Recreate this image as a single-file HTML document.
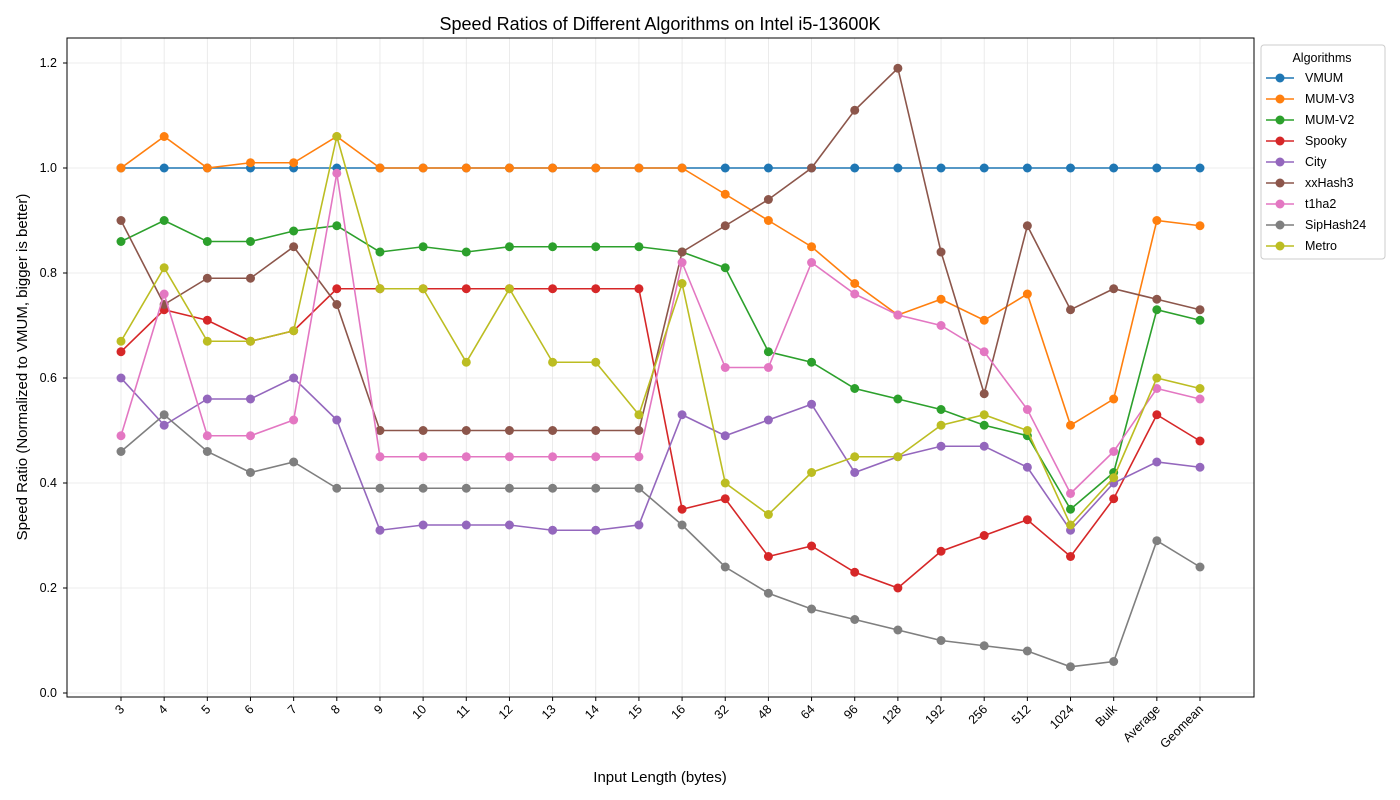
<!DOCTYPE html>
<html><head><meta charset="utf-8"><style>
body{margin:0;background:#fff}
svg{display:block;font-family:"Liberation Sans","DejaVu Sans",sans-serif}
</style></head><body>
<svg id="s" width="1400" height="800" xmlns="http://www.w3.org/2000/svg">
<rect width="1400" height="800" fill="#fff"/>
<g id="grid" stroke="#e6e6e6" stroke-width="0.8"></g>
<g id="series"></g>
<rect x="67" y="38" width="1187" height="659" fill="none" stroke="#000" stroke-width="1"/>
<text x="660" y="30" font-size="18" text-anchor="middle">Speed Ratios of Different Algorithms on Intel i5-13600K</text>
<text x="660" y="782" font-size="15" text-anchor="middle">Input Length (bytes)</text>
<text transform="translate(27,367) rotate(-90)" font-size="15" text-anchor="middle">Speed Ratio (Normalized to VMUM, bigger is better)</text>
<g font-size="12.5" text-anchor="end">
<text x="57" y="697">0.0</text><text x="57" y="592">0.2</text><text x="57" y="487">0.4</text><text x="57" y="382">0.6</text><text x="57" y="277">0.8</text><text x="57" y="172">1.0</text><text x="57" y="67">1.2</text>
</g>
<g id="xl" font-size="12.5" text-anchor="end">
<text>3</text><text>4</text><text>5</text><text>6</text><text>7</text><text>8</text><text>9</text><text>10</text><text>11</text><text>12</text><text>13</text><text>14</text><text>15</text><text>16</text><text>32</text><text>48</text><text>64</text><text>96</text><text>128</text><text>192</text><text>256</text><text>512</text><text>1024</text><text>Bulk</text><text>Average</text><text>Geomean</text>
</g>
<g id="leg">
<rect x="1261" y="45" width="124" height="214" rx="3" fill="#fff" fill-opacity="0.85" stroke="#ccc"/>
<text x="1322" y="62" font-size="12.5" text-anchor="middle">Algorithms</text>
<g font-size="12.5">
<text x="1305" y="82">VMUM</text><text x="1305" y="103">MUM-V3</text><text x="1305" y="124">MUM-V2</text><text x="1305" y="145">Spooky</text><text x="1305" y="166">City</text><text x="1305" y="187">xxHash3</text><text x="1305" y="208">t1ha2</text><text x="1305" y="229">SipHash24</text><text x="1305" y="250">Metro</text>
</g>
</g>
</svg>
<script>
const NS="http://www.w3.org/2000/svg";
const X=i=>121+i*43.16, Y=v=>693-v*525;
const data=[
["#1f77b4",Array(26).fill(1)],
["#ff7f0e",[1,1.06,1,1.01,1.01,1.06,1,1,1,1,1,1,1,1,.95,.9,.85,.78,.72,.75,.71,.76,.51,.56,.9,.89]],
["#2ca02c",[.86,.9,.86,.86,.88,.89,.84,.85,.84,.85,.85,.85,.85,.84,.81,.65,.63,.58,.56,.54,.51,.49,.35,.42,.73,.71]],
["#d62728",[.65,.73,.71,.67,.69,.77,.77,.77,.77,.77,.77,.77,.77,.35,.37,.26,.28,.23,.2,.27,.3,.33,.26,.37,.53,.48]],
["#9467bd",[.6,.51,.56,.56,.6,.52,.31,.32,.32,.32,.31,.31,.32,.53,.49,.52,.55,.42,.45,.47,.47,.43,.31,.4,.44,.43]],
["#8c564b",[.9,.74,.79,.79,.85,.74,.5,.5,.5,.5,.5,.5,.5,.84,.89,.94,1,1.11,1.19,.84,.57,.89,.73,.77,.75,.73]],
["#e377c2",[.49,.76,.49,.49,.52,.99,.45,.45,.45,.45,.45,.45,.45,.82,.62,.62,.82,.76,.72,.7,.65,.54,.38,.46,.58,.56]],
["#7f7f7f",[.46,.53,.46,.42,.44,.39,.39,.39,.39,.39,.39,.39,.39,.32,.24,.19,.16,.14,.12,.1,.09,.08,.05,.06,.29,.24]],
["#bcbd22",[.67,.81,.67,.67,.69,1.06,.77,.77,.63,.77,.63,.63,.53,.78,.4,.34,.42,.45,.45,.51,.53,.5,.32,.41,.6,.58]]];
function el(t,a,p){const e=document.createElementNS(NS,t);for(const k in a)e.setAttribute(k,a[k]);p.appendChild(e);return e;}
const g=document.getElementById("grid"),s=document.getElementById("series"),lg=document.getElementById("leg");
for(let i=0;i<26;i++){el("line",{x1:X(i),x2:X(i),y1:38,y2:697},g);el("line",{x1:X(i),x2:X(i),y1:697,y2:701,stroke:"#000"},s.parentNode);}
for(let v=0;v<=6;v++){const y=Y(v*.2);el("line",{x1:67,x2:1254,y1:y,y2:y},g);el("line",{x1:63,x2:67,y1:y,y2:y,stroke:"#000"},s.parentNode);}
data.forEach(([c,d],k)=>{
 el("polyline",{points:d.map((v,i)=>X(i)+","+Y(v)).join(" "),fill:"none",stroke:c,"stroke-width":1.6},s);
 d.forEach((v,i)=>el("circle",{cx:X(i),cy:Y(v),r:4.5,fill:c},s));
 const y=78+k*21;el("line",{x1:1266,x2:1294,y1:y,y2:y,stroke:c,"stroke-width":1.6},lg);el("circle",{cx:1280,cy:y,r:4.5,fill:c},lg);
});
[...document.querySelectorAll("#xl text")].forEach((t,i)=>{const x=X(i)+4,y=710;t.setAttribute("transform",`translate(${x},${y}) rotate(-45)`);});
</script>
</body></html>
